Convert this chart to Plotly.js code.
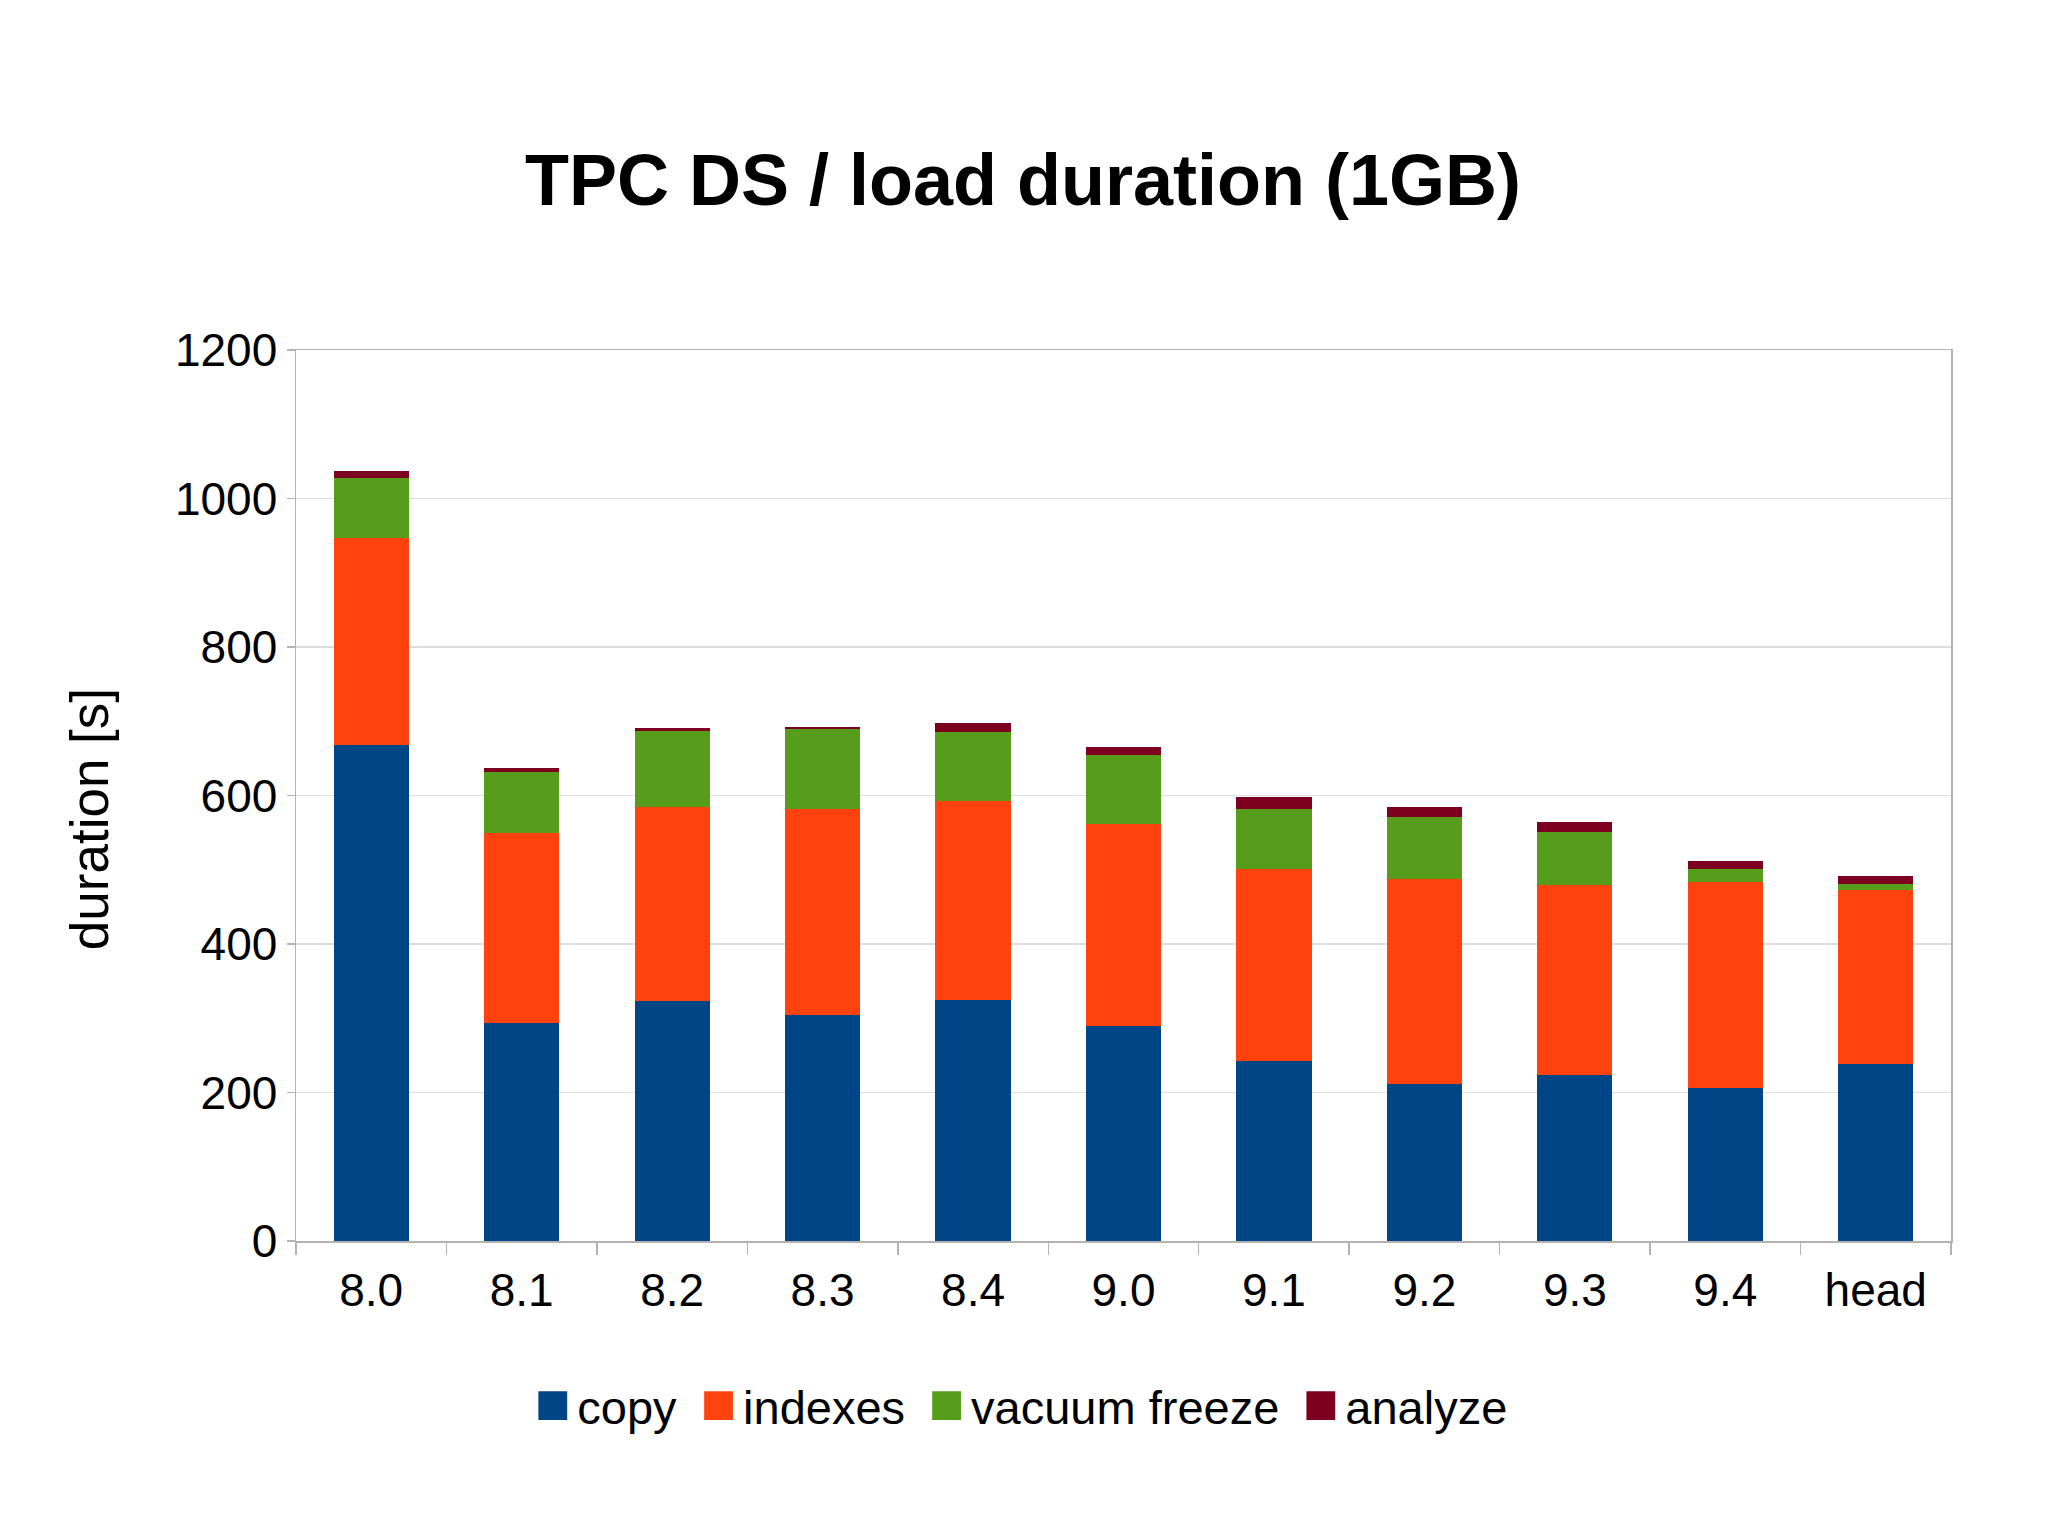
<!DOCTYPE html>
<html>
<head>
<meta charset="utf-8">
<script src="https://cdn.plot.ly/plotly-3.0.1.min.js"></script>
<style>
  body { margin: 0; background: #fff; }
  #chart { width: 2048px; height: 1535px; }
</style>
</head>
<body>
<div id="chart"></div>
<script>
// PostgreSQL versions tested
var versions = ['8.0', '8.1', '8.2', '8.3', '8.4', '9.0', '9.1', '9.2', '9.3', '9.4', 'head'];

// load phases, seconds
var copy    = [668, 294, 323, 305, 325, 290, 243, 211, 223, 206, 238];
var indexes = [279, 256, 262, 277, 267, 272, 258, 276, 257, 277, 235];
var vacuum  = [80, 82, 102, 107, 93, 92, 81, 84, 71, 18, 8];
var analyze = [10, 5, 4, 3, 12, 12, 16, 13, 13, 11, 10];

var seriesNames  = ['copy', 'indexes', 'vacuum freeze', 'analyze'];
var seriesValues = [copy, indexes, vacuum, analyze];
var seriesColors = ['#004586', '#ff420e', '#579d1c', '#7e0021'];

var data = [];
for (var i = 0; i < seriesNames.length; i++) {
    data.push({
        type: 'bar',
        name: seriesNames[i],
        x: versions,
        y: seriesValues[i],
        marker: { color: seriesColors[i], line: { width: 0 } },
        hoverinfo: 'x+y+name'
    });
}

var font = 'Liberation Sans, Arial, sans-serif';
var legendItemWidth = 51;

var layout = {
    width: 2048,
    height: 1535,
    paper_bgcolor: '#ffffff',
    plot_bgcolor: '#ffffff',
    barmode: 'stack',
    bargap: 0.5,
    font: { family: font, size: 46, color: '#000000' },
    margin: { l: 296, r: 97, t: 350, b: 294 },
    title: {
        text: '<b>TPC DS / load duration (1GB)</b>',
        font: { family: font, size: 72, color: '#000000' },
        xref: 'container', x: 0.4995,
        yref: 'container', y: 0.883, yanchor: 'middle'
    },
    xaxis: {
        type: 'category',
        showgrid: false,
        showline: true, linecolor: '#b3b3b3', linewidth: 1.5,
        mirror: true,
        ticks: 'outside', tickson: 'boundaries',
        ticklen: 12, tickcolor: '#b3b3b3', tickwidth: 1.5,
        ticklabelstandoff: 8,
        tickfont: { size: 46 }
    },
    yaxis: {
        range: [0, 1200],
        dtick: 200,
        showgrid: true, gridcolor: '#dddddd', gridwidth: 1.5,
        zeroline: false,
        showline: true, linecolor: '#b3b3b3', linewidth: 1.5,
        mirror: true,
        ticks: 'outside', ticklen: 8, tickcolor: '#b3b3b3', tickwidth: 1.5,
        ticklabelstandoff: 0,
        tickfont: { size: 46 }
    },
    annotations: [{
        text: 'duration [s]',
        textangle: -90,
        xref: 'paper', x: -0.125, xanchor: 'center',
        yref: 'paper', y: 0.4736, yanchor: 'middle',
        showarrow: false,
        font: { size: 53 }
    }],
    showlegend: true,
    legend: {
        orientation: 'h',
        xref: 'container', x: 0.4955, xanchor: 'center',
        yref: 'container', y: 0.084, yanchor: 'middle',
        font: { size: 47 },
        itemwidth: legendItemWidth,
        traceorder: 'normal',
        itemclick: false
    }
};

Plotly.newPlot('chart', data, layout, { displayModeBar: false, staticPlot: true }).then(function () {
    // bigger legend squares, sitting just left of their text
    var textGap = legendItemWidth + 10;
    var pts = document.querySelectorAll('.legend .legendpoints path');
    pts.forEach(function (p) {
        p.setAttribute('transform', 'translate(' + (textGap - 24.5) + ',0) scale(2.4)');
    });
});
</script>
</body>
</html>
